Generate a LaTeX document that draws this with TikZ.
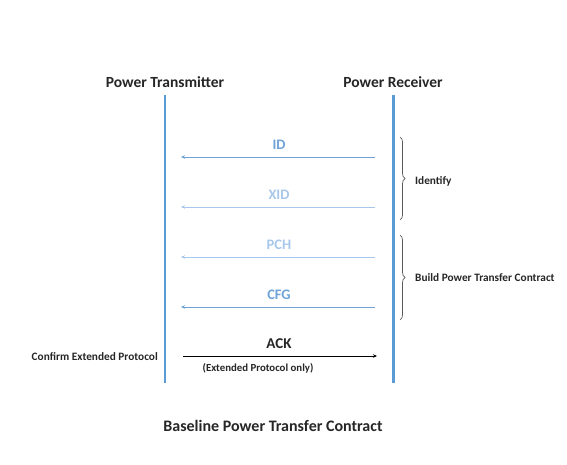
\documentclass[tikz,border=0pt]{standalone}
\usepackage{fontspec}
\setmainfont{Carlito}
\usetikzlibrary{arrows.meta,decorations.pathreplacing}
\definecolor{lifeblue}{HTML}{5B9BD5}
\definecolor{msgblue}{HTML}{6FA3D8}
\definecolor{msglight}{HTML}{A7C8EA}
\definecolor{txtdark}{HTML}{262626}
\definecolor{bracegray}{HTML}{595959}
\tikzset{
  hdr/.style={font=\bfseries\fontsize{15.5}{17}\selectfont, text=txtdark, inner sep=0pt},
  lbl/.style={font=\bfseries\fontsize{11.3}{13}\selectfont, text=txtdark, inner sep=0pt},
  msglbl/.style={font=\bfseries\fontsize{14.5}{16}\selectfont, inner sep=0pt},
  msg/.style={line width=0.9pt, -{Stealth[length=4pt,width=3.5pt]}},
  brc/.style={draw=bracegray, line width=0.7pt, decorate, decoration={brace, amplitude=5pt}},
}
\begin{document}
\begin{tikzpicture}[x=1pt,y=-1pt]
\useasboundingbox (0,0) rectangle (567,465);
% headers
\node[hdr] (tx) at (165,82) {Power Transmitter};
\node[hdr] (rx) at (393,82) {Power Receiver};
% lifelines
\coordinate (txtop) at (165,95);
\coordinate (txbot) at (165,383);
\coordinate (rxtop) at (393,95);
\coordinate (rxbot) at (393,383);
\draw[lifeblue, line width=2pt] (txtop) -- (txbot);
\draw[lifeblue, line width=3pt] (rxtop) -- (rxbot);
% messages
\coordinate (idR) at (375,157); \coordinate (idL) at (181,157);
\coordinate (xidR) at (375,207); \coordinate (xidL) at (181,207);
\coordinate (pchR) at (375,257); \coordinate (pchL) at (181,257);
\coordinate (cfgR) at (375,307); \coordinate (cfgL) at (181,307);
\coordinate (ackL) at (183,356); \coordinate (ackR) at (377,356);
\draw[msg, msgblue] (idR) -- (idL);
\draw[msg, msglight] (xidR) -- (xidL);
\draw[msg, msglight] (pchR) -- (pchL);
\draw[msg, msgblue] (cfgR) -- (cfgL);
\draw[msg, black] (ackL) -- (ackR);
\node[msglbl, text=msgblue] (idt) at (279,145) {ID};
\node[msglbl, text=msglight] (xidt) at (279,195) {XID};
\node[msglbl, text=msglight] (pcht) at (279,245) {PCH};
\node[msglbl, text=msgblue] (cfgt) at (279,295) {CFG};
\node[msglbl, text=txtdark, font=\bfseries\fontsize{15}{17}\selectfont] (ackt) at (279,344) {ACK};
\node[lbl, font=\bfseries\fontsize{10.8}{12}\selectfont] (ackn) at (258,368) {(Extended Protocol only)};
\node[lbl, anchor=east] (conf) at (158,357) {Confirm Extended Protocol};
% braces
\coordinate (b1t) at (400,137); \coordinate (b1b) at (400,220);
\coordinate (b2t) at (400,235); \coordinate (b2b) at (400,320);
\draw[brc] (b1t) -- (b1b);
\draw[brc] (b2t) -- (b2b);
\node[lbl, anchor=west] (ident) at (415,181) {Identify};
\node[lbl, anchor=west] (build) at (415,278) {Build Power Transfer Contract};
% caption
\node[hdr, font=\bfseries\fontsize{16}{18}\selectfont] (cap) at (273,426) {Baseline Power Transfer Contract};
\end{tikzpicture}
\end{document}
